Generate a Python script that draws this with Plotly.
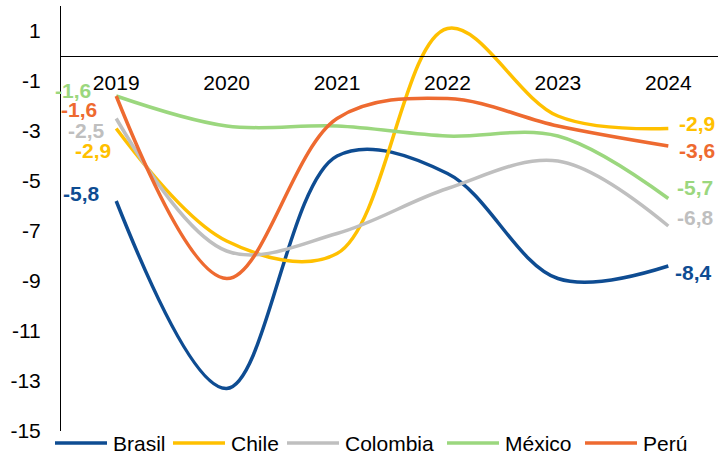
import plotly.graph_objects as go

years = ["2019", "2020", "2021", "2022", "2023", "2024"]
countries = ["Brasil", "Chile", "Colombia", "México", "Perú"]
brasil = [-5.8, -13.3, -4.0, -4.7, -8.9, -8.4]
chile = [-2.9, -7.4, -7.9, 1.1, -2.4, -2.9]
colombia = [-2.5, -7.8, -7.1, -5.3, -4.2, -6.8]
mexico = [-1.6, -2.8, -2.8, -3.2, -3.2, -5.7]
peru = [-1.6, -8.9, -2.5, -1.7, -2.8, -3.6]
y_ticks = [1, -1, -3, -5, -7, -9, -11, -13, -15]

series = [brasil, chile, colombia, mexico, peru]
colors = ["#0E4C92", "#FFC000", "#BFBFBF", "#9BD77E", "#EE6A30"]
# label offsets (px) for first and last value labels
start_off = [(-14, 8), (-3, -22), (-9, -12), (-23, 6), (-17, -13)]
end_off = [(5, -6), (9, 5), (7, 9), (7, 11), (9, -4)]
# manual legend layout (pixel x of each swatch start)
legend_px = [55, 173, 287, 447, 585]
LEG_Y_PX = 443
L_MARGIN, PLOT_W, T_MARGIN, PLOT_H = 61, 657, 6, 425

FONT = "Liberation Sans, Arial, sans-serif"
FS = 21

def fmt(v):
    return f"{v:.1f}".replace(".", ",")

def px2paper_x(p):
    return (p - L_MARGIN) / PLOT_W

def px2paper_y(p):
    return (T_MARGIN + PLOT_H - p) / PLOT_H

fig = go.Figure()
for name, vals, col in zip(countries, series, colors):
    fig.add_trace(go.Scatter(
        x=years, y=vals, name=name, mode="lines", showlegend=False,
        line=dict(color=col, width=3.5, shape="spline", smoothing=1),
    ))

annotations = []
shapes = []
last = len(years) - 1
for vals, col, so, eo in zip(series, colors, start_off, end_off):
    annotations.append(dict(x=0, y=vals[0], xref="x", yref="y", text="<b>" + fmt(vals[0]) + "</b>",
                            showarrow=False, xanchor="right", yanchor="middle",
                            xshift=so[0], yshift=so[1],
                            font=dict(family=FONT, size=FS, color=col)))
    annotations.append(dict(x=last, y=vals[-1], xref="x", yref="y", text="<b>" + fmt(vals[-1]) + "</b>",
                            showarrow=False, xanchor="left", yanchor="middle",
                            xshift=eo[0], yshift=eo[1],
                            font=dict(family=FONT, size=FS, color=col)))

ly = px2paper_y(LEG_Y_PX)
for name, col, lp in zip(countries, colors, legend_px):
    shapes.append(dict(type="line", xref="paper", yref="paper",
                       x0=px2paper_x(lp), x1=px2paper_x(lp + 52), y0=ly, y1=ly,
                       line=dict(color=col, width=3.5)))
    annotations.append(dict(x=px2paper_x(lp + 56), y=ly, xref="paper", yref="paper",
                            text=name, showarrow=False, xanchor="left", yanchor="middle",
                            font=dict(family=FONT, size=FS, color="black")))

fig.update_layout(
    width=718, height=454,
    margin=dict(l=L_MARGIN, r=0, t=T_MARGIN, b=454 - T_MARGIN - PLOT_H),
    paper_bgcolor="white", plot_bgcolor="white",
    font=dict(family=FONT, size=FS, color="black"),
    showlegend=False,
    annotations=annotations,
    shapes=shapes,
    xaxis=dict(type="category", range=[-0.5, 5.45], anchor="free", position=15/17,
               showline=True, linecolor="black", linewidth=1, showgrid=False,
               ticks="", ticklabelstandoff=8, zeroline=False),
    yaxis=dict(range=[-15, 2], tickvals=y_ticks, ticktext=[str(t) for t in y_ticks],
               showline=True, linecolor="black", linewidth=1, showgrid=False,
               zeroline=False, ticks="", ticklabelstandoff=15),
)

fig.write_html("out.html")
